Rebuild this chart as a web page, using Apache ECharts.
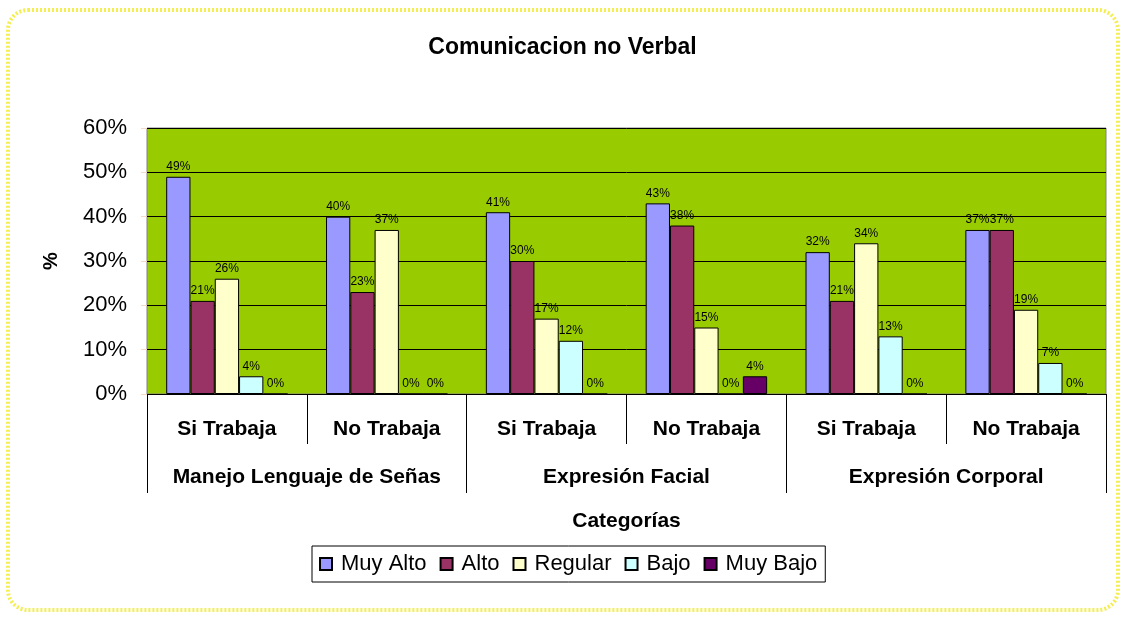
<!DOCTYPE html>
<html>
<head>
<meta charset="utf-8">
<script src="https://cdn.jsdelivr.net/npm/echarts@6/dist/echarts.min.js"></script>
<style>
  html, body { margin: 0; padding: 0; background: #fff; }
  #chart { width: 1125px; height: 617px; }
</style>
</head>
<body>
<div id="chart"></div>
<script>
// sub categories (first axis row) and groups (second row)
const subCategories = ['Si Trabaja', 'No Trabaja', 'Si Trabaja', 'No Trabaja', 'Si Trabaja', 'No Trabaja']
const groups = ['Manejo Lenguaje de Señas', 'Expresión Facial', 'Expresión Corporal']
const yTicks = [0, 10, 20, 30, 40, 50, 60]

const seriesNames = ['Muy Alto', 'Alto', 'Regular', 'Bajo', 'Muy Bajo']
const seriesColors = ['#9999FF', '#993366', '#FFFFCC', '#CCFFFF', '#660066']

const muyAlto = [49, 40, 41, 43, 32, 37]
const alto = [21, 23, 30, 38, 21, 37]
const regular = [26, 37, 17, 15, 34, 19]
const bajo = [4, 0, 12, 0, 13, 7]
const muyBajo = [0, 0, 0, 4, 0, 0]
const values = [muyAlto, alto, regular, bajo, muyBajo]

const font = '"Liberation Sans", Arial, sans-serif'

const chart = echarts.init(document.getElementById('chart'))

chart.setOption({
  animation: false,
  textStyle: {fontFamily: font},
  title: {
    text: 'Comunicacion no Verbal',
    left: 'center',
    top: 31,
    textStyle: {fontSize: 23, fontWeight: 'bold', color: '#000', fontFamily: font}
  },
  legend: {
    left: 312,
    top: 546,
    padding: [7, 8, 7, 7],
    itemGap: 13,
    itemWidth: 12,
    itemHeight: 12,
    borderColor: '#000',
    borderWidth: 1,
    icon: 'rect',
    textStyle: {fontSize: 22, color: '#000', fontFamily: font, padding: [0, 0, 0, 4]},
    data: seriesNames
  },
  grid: {
    left: 147,
    right: 19,
    top: 128,
    bottom: 223,
    show: true,
    backgroundColor: '#99CC00',
    borderColor: '#808080',
    borderWidth: 1,
    containLabel: false,
    outerBoundsMode: 'none'
  },
  xAxis: [
    {
      type: 'category',
      position: 'bottom',
      data: subCategories,
      axisLine: {lineStyle: {color: '#000', width: 1}},
      axisTick: {show: true, length: 50, interval: 0, lineStyle: {color: '#000'}},
      axisLabel: {
        interval: 0, margin: 25, fontSize: 21, fontWeight: 'bold', color: '#000', fontFamily: font
      }
    },
    {
      type: 'category',
      position: 'bottom',
      data: groups,
      name: 'Categorías',
      nameLocation: 'middle',
      nameGap: 117,
      nameTextStyle: {fontSize: 21, fontWeight: 'bold', color: '#000', fontFamily: font},
      axisLine: {show: false},
      axisTick: {show: true, length: 99, interval: 0, lineStyle: {color: '#000'}},
      axisLabel: {
        interval: 0, margin: 73, fontSize: 21, fontWeight: 'bold', color: '#000', fontFamily: font
      }
    }
  ],
  yAxis: {
    type: 'value',
    min: 0,
    max: 60,
    interval: 10,
    name: '%',
    nameLocation: 'middle',
    nameGap: 86,
    nameRotate: 90,
    nameTextStyle: {fontSize: 20, fontWeight: 'bold', color: '#000', fontFamily: font},
    axisLine: {show: false},
    axisTick: {show: true, length: 6, lineStyle: {color: '#F8D8C0'}},
    axisLabel: {
      margin: 20, fontSize: 22, color: '#000', fontFamily: font, padding: [5, 0, 0, 0],
      formatter: v => yTicks.includes(v) ? v + '%' : ''
    },
    splitLine: {lineStyle: {color: '#000', width: 1}}
  },
  graphic: [{
    type: 'rect',
    silent: true,
    z: -1,
    shape: {x: 8, y: 10, width: 1110, height: 600, r: 20},
    style: {fill: 'none', stroke: '#F4EE50', lineWidth: 4, lineDash: [2, 2]}
  }],
  series: seriesNames.map((name, i) => ({
    name,
    type: 'bar',
    xAxisIndex: 0,
    data: values[i],
    barGap: '0%',
    barCategoryGap: '24%',
    itemStyle: {color: seriesColors[i], borderColor: '#000', borderWidth: 1},
    label: {
      show: true,
      position: 'top',
      distance: 4,
      fontSize: 12,
      color: '#000',
      fontFamily: font,
      formatter: '{c}%'
    }
  }))
})
</script>
</body>
</html>
